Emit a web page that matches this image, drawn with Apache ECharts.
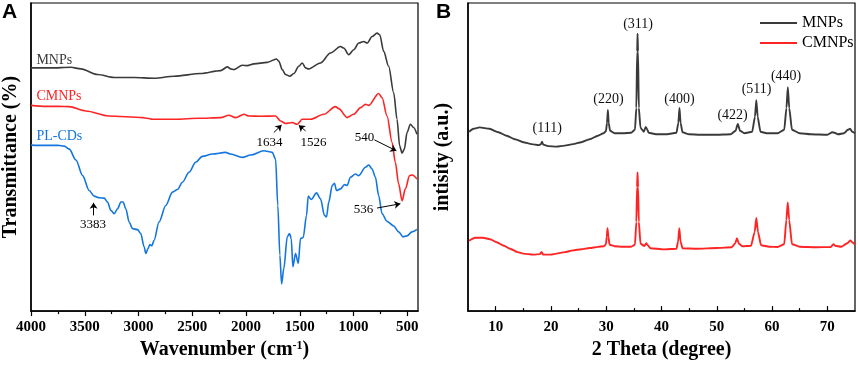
<!DOCTYPE html>
<html>
<head>
<meta charset="utf-8" />
<title>FTIR / XRD</title>
<style>
  html, body { margin: 0; padding: 0; background: #fff; }
  #chartBox { width: 858px; height: 365px; }
</style>
</head>
<body>
<div id="chartBox"></div>
<script src="https://cdn.jsdelivr.net/npm/echarts@6/dist/echarts.min.js"></script>
<script>
// ---- A: FTIR, [wavenumber, offset transmittance] ----
var ftirMNPs = [[4000,244.7],[3814,244.7],[3629,245.3],[3536,243.7],[3381,238],[3226,235],[3041,235],[2855,234.3],[2669,236.3],[2421,239],[2236,242],[2173,245.7],[2143,243.7],[2112,243],[2034,247.3],[1988,247],[1926,248.7],[1802,250.3],[1716,253.7],[1694,251.3],[1663,243],[1632,238],[1592,236.3],[1555,239],[1509,246.3],[1477,249.7],[1446,244.7],[1416,243.7],[1307,249.7],[1214,259.7],[1121,266.3],[1091,264.7],[1044,258],[998,263],[951,269.7],[905,271.3],[873,269.7],[827,276.3],[781,279.7],[756,278],[719,261.3],[673,246.3],[626,219.7],[595,193],[571,166.3],[548,159],[527,163],[502,179.7],[471,188],[441,184.7],[410,178]];
var ftirCMNPs = [[4000,207],[3861,206],[3740,206],[3647,205.7],[3489,201.3],[3276,196.3],[2960,194.7],[2920,194],[2867,193],[2654,193],[2440,194],[2236,194.7],[2159,197],[2096,194.7],[2019,198],[1973,196.3],[1864,196],[1725,196.3],[1679,191.3],[1632,188.7],[1570,189.7],[1523,188],[1477,193],[1400,193],[1276,198],[1168,205.7],[1137,203.7],[1059,194.7],[998,198],[934,204.7],[889,208],[858,207],[766,219],[734,214.7],[688,196.3],[641,169.7],[611,149.7],[580,128],[548,111],[518,123],[478,136.3],[453,137],[410,133]];
var ftirPLCDs = [[4000,167],[3861,166.7],[3749,166.8],[3691,166],[3644,163],[3582,152],[3520,136.3],[3459,121.3],[3412,115.7],[3366,114],[3319,113.7],[3288,109.7],[3257,101.3],[3226,98],[3195,103],[3164,109.7],[3143,109.7],[3118,103],[3087,89.7],[3056,83],[3009,82],[2979,78],[2948,64.7],[2932,58],[2911,63],[2895,67],[2876,65.7],[2855,71.3],[2809,89.7],[2746,106.3],[2684,119.7],[2638,122.3],[2591,129.7],[2530,139.7],[2468,149.7],[2406,155.7],[2313,158],[2189,159.7],[2143,158],[2034,154.7],[1957,157],[1834,161.3],[1756,159.7],[1725,153],[1704,106.3],[1685,56.3],[1669,27.3],[1648,43],[1616,74.7],[1595,78],[1579,73],[1564,44.7],[1539,58],[1514,48],[1493,73],[1468,74],[1437,96.3],[1421,115.7],[1393,112.3],[1344,119],[1307,113],[1270,96.3],[1251,94.7],[1230,109.7],[1198,126.3],[1177,128.7],[1158,121.3],[1121,123],[1084,127.3],[1059,126.3],[1029,134.7],[982,138],[951,136.3],[889,144.7],[858,147],[827,143],[796,134.7],[766,116.3],[734,98],[688,90.3],[626,85.7],[580,79.7],[539,74.7],[502,75.7],[456,79.7],[410,82.3]];

// ---- B: XRD, [2 theta, intensity] ----
var xrdMNPs = [[5.2,181],[6,184],[7.1,185.5],[8.9,184],[10.5,180.5],[12,177],[13.5,173.5],[15,170.5],[16.5,168.5],[17.8,167.5],[18.2,168.5],[18.4,171],[18.6,168],[19.5,166.5],[21,166],[22.5,167],[24,168.5],[25.5,170.5],[27,173.5],[28.5,177],[29.5,179.5],[29.95,181.5],[30.15,190],[30.3,203],[30.45,190],[30.7,182],[31.5,179.5],[33,179.5],[34.5,180],[35.2,183],[35.45,205],[35.6,262],[35.67,280],[35.75,262],[35.9,205],[36.2,185],[36.8,181],[37.15,186],[37.35,184],[37.7,180],[39,178.5],[41,178.5],[42.7,180],[43.05,190],[43.25,205],[43.45,190],[43.8,180.5],[45,178.5],[47,178],[50,178],[52.5,178.5],[53.4,182],[53.8,189],[54.2,182],[55,179.5],[56.4,181],[56.9,196],[57.15,213],[57.4,196],[57.9,181],[59,179.5],[61,179.5],[62.2,183],[62.6,205],[62.85,226],[63.1,205],[63.6,183],[65,179.5],[67,178.5],[70,178],[70.9,180.5],[71.3,180],[72,178.5],[73,179.5],[73.7,183],[74.1,184],[74.5,181],[75,179.5]];
var xrdCMNPs = [[5.2,71],[6.3,74],[7.7,74],[9,72.5],[10.2,69.5],[11.5,66],[12.6,63],[14,59.5],[15,58],[16.8,57],[18,57.5],[18.3,59.8],[18.6,57],[20,57],[21,58],[22.5,59.5],[24,61.3],[25.5,62.5],[27,63.7],[28.5,64.8],[29.6,65.5],[29.95,67.5],[30.1,75],[30.23,83.7],[30.4,75],[30.6,67],[31.5,65.5],[33,65],[34.5,65],[35.2,67],[35.45,90],[35.58,125],[35.67,140],[35.76,125],[35.9,90],[36.2,68],[36.9,65.7],[37.25,68.5],[37.5,66.5],[38,63.5],[40.4,62.3],[42.7,63],[43,70],[43.22,83.7],[43.45,70],[43.8,63.5],[46.45,63],[50,63.7],[52.7,64.5],[53.35,68.5],[53.65,73.7],[54,68],[54.6,65.5],[56.2,66],[56.85,80],[57.15,94],[57.45,80],[58,66.5],[59.5,65],[61,64.7],[62.2,67.5],[62.58,92],[62.84,109.7],[63.1,92],[63.6,67.5],[65,65],[68,64.5],[70.6,64.7],[71.1,67.5],[71.4,66],[72.5,65],[73.6,68.5],[74.15,71.3],[74.6,69],[75,67]];

// axis ticks / labels
var wnLabels = [500,1000,1500,2000,2500,3000,3500,4000];
var wnMinor = [750,1250,1750,2250,2750,3250,3750];
var thetaLabels = [10,20,30,40,50,60,70];
var thetaMinor = [15,25,35,45,55,65];

// annotations
var seriesNames = ['MNPs','CMNPs','PL-CDs'];
var ftirNotes = ['3383','1634','1526','540','536'];
var hklNotes = ['(111)','(220)','(311)','(400)','(422)','(511)','(440)'];

var colors = ['#3a3a3a','#ff2424','#1376de'];
var serif = '"Liberation Serif", "Times New Roman", serif';

window.onload = function() {
  create_Spectra_Chart('chartBox');
};

function create_Spectra_Chart(id) {
  var myChart = echarts.init(document.getElementById(id));
  myChart.setOption(create_Spectra_option());
}

function noteLabel(text, color, align, size) {
  return {
    show: true,
    position: 'inside',
    formatter: text,
    color: color,
    align: align || 'center',
    verticalAlign: 'middle',
    fontFamily: serif,
    fontSize: size || 13
  };
}

// tick labels go through rich text so the serif face sticks
function plainNum(v) {
  return '{n|' + v + '}';
}

function create_Spectra_option() {
  var axisFont = {
    color: '#000', fontFamily: serif, fontWeight: 'bold', fontSize: 15, formatter: plainNum,
    rich: {n: {fontFamily: serif, fontWeight: 'bold', fontSize: 15, color: '#000'}}
  };
  var nameFont = {
    color: '#000', fontFamily: serif, fontWeight: 'bold', fontSize: 20,
    rich: {sup: {fontFamily: serif, fontWeight: 'bold', fontSize: 12, verticalAlign: 'top', color: '#000'}}
  };
  var blackLine = {color: '#000', width: 1.5};
  var hidden = {show: false};
  var markBase = {symbol: 'circle', symbolSize: 1, itemStyle: {color: 'rgba(0,0,0,0)'}, silent: true};

  var ftirMarks = [
    {coord: [3950, 252], label: noteLabel(seriesNames[0], colors[0], 'left', 14)},
    {coord: [3950, 216], label: noteLabel(seriesNames[1], colors[1], 'left', 14)},
    {coord: [3950, 176], label: noteLabel(seriesNames[2], colors[2], 'left', 14)},
    {coord: [3424, 87], label: noteLabel(ftirNotes[0], '#000')},
    {coord: [1781, 169.7], label: noteLabel(ftirNotes[1], '#000')},
    {coord: [1372, 169.7], label: noteLabel(ftirNotes[2], '#000')},
    {coord: [897, 174.7], label: noteLabel(ftirNotes[3], '#000')},
    {coord: [908, 102.3], label: noteLabel(ftirNotes[4], '#000')}
  ];
  var ftirArrows = [
    [{coord: [3418, 96.3]}, {coord: [3418, 109]}],
    [{coord: [1741, 179.7]}, {coord: [1669, 187.3]}],
    [{coord: [1446, 181.3]}, {coord: [1509, 187]}],
    [{coord: [806, 172.3]}, {coord: [601, 161.3]}],
    [{coord: [781, 103.7]}, {coord: [564, 108]}]
  ];
  var hklPos = [[19.32,184.7],[30.41,214],[35.76,289.7],[43.24,214],[52.86,198],[57.2,223.7],[62.53,237]];
  var hklMarks = hklNotes.map(function(t, i) {
    return {coord: hklPos[i], label: noteLabel(t, '#111', 'center', 14)};
  });

  function lineSeries(name, xi, yi, data, color, smooth, width) {
    return {
      name: name, type: 'line', xAxisIndex: xi, yAxisIndex: yi, data: data,
      symbol: 'none', showSymbol: false, smooth: smooth, smoothMonotone: 'x',
      lineStyle: {color: color, width: width}, itemStyle: {color: color}
    };
  }

  var sA0 = lineSeries('MNPs', 0, 0, ftirMNPs, colors[0], 0.3, 1.6);
  sA0.markPoint = Object.assign({data: ftirMarks}, markBase);
  sA0.markLine = {
    silent: true, symbol: ['none', 'arrow'], symbolSize: 6,
    lineStyle: {color: '#000', width: 1, type: 'solid'},
    label: {show: false}, data: ftirArrows
  };
  var sB0 = lineSeries('MNPs', 2, 1, xrdMNPs, colors[0], 0.2, 1.9);
  sB0.markPoint = Object.assign({data: hklMarks}, markBase);

  var option = {
    animation: false,
    color: colors,
    textStyle: {fontFamily: serif},
    grid: [
      {left: 30, top: 3, width: 388, height: 310, show: true, borderColor: '#000', borderWidth: 1.2},
      {left: 468, top: 3, width: 387, height: 311, show: true, borderColor: '#000', borderWidth: 1.2}
    ],
    legend: {
      data: ['MNPs', 'CMNPs'], orient: 'vertical', left: 755, top: 10,
      icon: 'rect', itemWidth: 37, itemHeight: 2, itemGap: 4,
      textStyle: {color: '#000', fontFamily: serif, fontSize: 16}
    },
    xAxis: [
      {
        gridIndex: 0, type: 'value', inverse: true, min: 400, max: 4000, position: 'bottom',
        splitLine: hidden, axisLine: {lineStyle: blackLine},
        axisTick: {customValues: wnLabels, length: 5, lineStyle: {color: '#000', width: 1.2}},
        axisLabel: Object.assign({customValues: wnLabels, margin: 9}, axisFont),
        name: 'Wavenumber (cm{sup|-1})', nameLocation: 'middle', nameGap: 26, nameTextStyle: nameFont
      },
      {
        gridIndex: 0, type: 'value', inverse: true, min: 400, max: 4000, position: 'bottom',
        splitLine: hidden, axisLine: hidden, axisLabel: hidden,
        axisTick: {customValues: wnMinor, length: 3, lineStyle: {color: '#000', width: 1.2}}
      },
      {
        gridIndex: 1, type: 'value', min: 5, max: 75, position: 'bottom',
        splitLine: hidden, axisLine: {lineStyle: blackLine},
        axisTick: {customValues: thetaLabels, inside: true, length: 5, lineStyle: {color: '#000', width: 1.2}},
        axisLabel: Object.assign({customValues: thetaLabels, margin: 9}, axisFont),
        name: '2 Theta (degree)', nameLocation: 'middle', nameGap: 25, nameTextStyle: nameFont
      },
      {
        gridIndex: 1, type: 'value', min: 5, max: 75, position: 'bottom',
        splitLine: hidden, axisLine: hidden, axisLabel: hidden,
        axisTick: {customValues: thetaMinor, inside: true, length: 3, lineStyle: {color: '#000', width: 1.2}}
      }
    ],
    yAxis: [
      {
        gridIndex: 0, type: 'value', min: 0, max: 310,
        splitLine: hidden, axisTick: hidden, axisLabel: hidden, axisLine: {show: true, lineStyle: blackLine},
        name: 'Transmittance (%)', nameLocation: 'middle', nameRotate: 90, nameGap: 10, nameTextStyle: nameFont
      },
      {
        gridIndex: 1, type: 'value', min: 0, max: 311,
        splitLine: hidden, axisTick: hidden, axisLabel: hidden, axisLine: {show: true, lineStyle: blackLine},
        name: 'intisity (a.u.)', nameLocation: 'middle', nameRotate: 90, nameGap: 15, nameTextStyle: nameFont
      }
    ],
    graphic: [
      {type: 'text', left: 2, top: 2, style: {text: 'A', font: 'bold 21px "Liberation Sans", Arial, sans-serif', fill: '#000'}},
      {type: 'text', left: 436, top: 2, style: {text: 'B', font: 'bold 21px "Liberation Sans", Arial, sans-serif', fill: '#000'}}
    ],
    series: [
      sA0,
      lineSeries('CMNPs', 0, 0, ftirCMNPs, colors[1], 0.3, 1.6),
      lineSeries('PL-CDs', 0, 0, ftirPLCDs, colors[2], 0.3, 1.6),
      sB0,
      lineSeries('CMNPs', 2, 1, xrdCMNPs, colors[1], 0.2, 1.9)
    ]
  };
  return option;
}
</script>
</body>
</html>
